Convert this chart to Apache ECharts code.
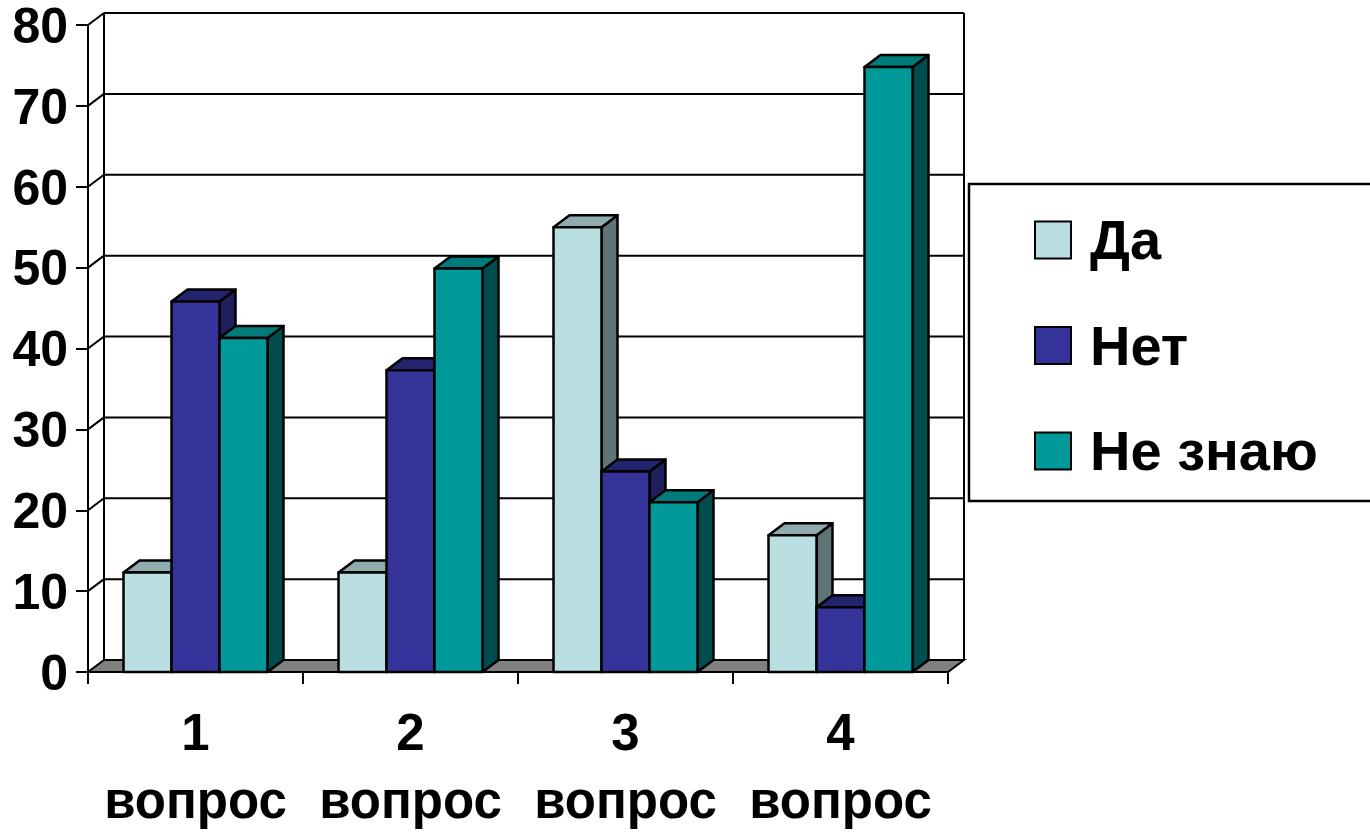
<!DOCTYPE html>
<html>
<head>
<meta charset="utf-8">
<style>html,body{margin:0;padding:0;background:#fff}#c{width:1370px;height:832px}</style>
<script src="https://cdn.jsdelivr.net/npm/echarts@6/dist/echarts.min.js"></script>
</head>
<body>
<div id="c"></div>
<script>
const categories = ['1\nвопрос', '2\nвопрос', '3\nвопрос', '4\nвопрос'];
const yTicks = [0, 10, 20, 30, 40, 50, 60, 70, 80];
const seriesNames = ['Да', 'Нет', 'Не знаю'];
const da = [12.3, 12.3, 55, 16.9];
const net = [45.8, 37.3, 24.8, 8];
const neZnayu = [41.3, 49.9, 21, 74.8];

const DX = 16, DY = 12, BAR_RATIO = 48 / 215;
const FONT = '"Liberation Sans", Arial, sans-serif';
const palette = [
  { front: '#B9DFE3', top: '#8FABAD', side: '#5F7476' },
  { front: '#333399', top: '#24246E', side: '#1F1F5C' },
  { front: '#009999', top: '#007A7A', side: '#004D4D' }
];
const edge = { stroke: '#000', lineWidth: 2.5, lineJoin: 'round' };

function barRender(si) {
  return function (params, api) {
    const band = api.size([1, 0])[0];
    const w = band * BAR_RATIO;
    const c = api.coord([api.value(0), api.value(1)]);
    const b = api.coord([api.value(0), 0]);
    const x0 = c[0] + (si - 1.5) * w, x1 = x0 + w, y0 = c[1], y1 = b[1];
    const p = palette[si];
    const poly = (points, fill) => ({
      type: 'polygon', shape: { points }, style: Object.assign({ fill }, edge)
    });
    return {
      type: 'group',
      children: [
        poly([[x1, y0], [x1 + DX, y0 - DY], [x1 + DX, y1 - DY], [x1, y1]], p.side),
        poly([[x0, y0], [x0 + DX, y0 - DY], [x1 + DX, y0 - DY], [x1, y0]], p.top),
        poly([[x0, y0], [x1, y0], [x1, y1], [x0, y1]], p.front)
      ]
    };
  };
}

function wallRender(params, api) {
  const band = api.size([1, 0])[0];
  const v = api.value(1);
  const first = api.coord([0, v]);
  const last = api.coord([categories.length - 1, v]);
  const L = first[0] - band / 2, R = last[0] + band / 2, y = first[1];
  const line = (x1, y1, x2, y2) => ({
    type: 'line', shape: { x1, y1, x2, y2 }, style: { stroke: '#000', lineWidth: 2 }
  });
  const children = [];
  if (v === yTicks[0]) {
    children.push({
      type: 'polygon',
      shape: { points: [[L, y], [L + DX, y - DY], [R + DX, y - DY], [R, y]] },
      style: { fill: '#808080', stroke: '#000', lineWidth: 2 }
    });
    const top = api.coord([0, yTicks[yTicks.length - 1]])[1];
    children.push(line(L + DX, y - DY, L + DX, top - DY));
    children.push(line(R + DX, y - DY, R + DX, top - DY));
  } else {
    children.push(line(L + DX, y - DY, R + DX, y - DY));
    children.push(line(L, y, L + DX, y - DY));
  }
  return { type: 'group', children };
}

const chart = echarts.init(document.getElementById('c'), null, { renderer: 'canvas' });
const values = [da, net, neZnayu];
chart.setOption({
  animation: false,
  backgroundColor: '#fff',
  tooltip: { show: false },
  grid: { left: 88, top: 25, width: 860, height: 647, containLabel: false, outerBoundsMode: 'none' },
  graphic: [{
    type: 'rect', z: 1,
    shape: { x: 969, y: 184, width: 420, height: 317 },
    style: { fill: '#fff', stroke: '#000', lineWidth: 2.5 }
  }],
  legend: {
    orient: 'vertical', left: 1034, top: 216, padding: 0,
    itemWidth: 36, itemHeight: 37, itemGap: 49.5, z: 5,
    selectedMode: false, icon: 'rect',
    data: seriesNames.map((name, i) => ({
      name, icon: 'rect',
      itemStyle: { color: palette[i].front, borderColor: '#000', borderWidth: 2 }
    })),
    formatter: name => '{a|' + name + '}',
    textStyle: {
      rich: {
        a: { fontFamily: FONT, fontWeight: 'bold', fontSize: 56, color: '#000', padding: [8, 0, 0, 14] }
      }
    }
  },
  xAxis: {
    type: 'category', data: categories,
    axisLine: { lineStyle: { color: '#000', width: 2 } },
    axisTick: { show: true, alignWithLabel: false, length: 12, lineStyle: { color: '#000', width: 2 } },
    axisLabel: {
      interval: 0, margin: 30, lineHeight: 68, color: '#000',
      fontFamily: FONT, fontWeight: 'bold', fontSize: 51
    },
    splitLine: { show: false }
  },
  yAxis: {
    type: 'value', min: 0, max: 80, interval: 10,
    axisLine: { show: true, lineStyle: { color: '#000', width: 2 } },
    axisTick: { show: true, length: 12, lineStyle: { color: '#000', width: 2 } },
    axisLabel: {
      margin: 20,
      formatter: '{a|{value}}',
      rich: {
        a: { color: '#000', fontFamily: FONT, fontWeight: 'bold', fontSize: 50, padding: [8, 0, 0, 0] }
      }
    },
    splitLine: { show: false }
  },
  series: [
    {
      type: 'custom', name: 'wall', z: 1, silent: true, clip: false,
      renderItem: wallRender, encode: { x: 0, y: 1 },
      data: yTicks.map(v => [0, v])
    }
  ].concat(seriesNames.map((name, si) => ({
    type: 'custom', name, z: 2 + si, silent: true, clip: false,
    itemStyle: { color: palette[si].front },
    renderItem: barRender(si), encode: { x: 0, y: 1 },
    data: values[si].map((v, i) => [i, v])
  })))
});
</script>
</body>
</html>
